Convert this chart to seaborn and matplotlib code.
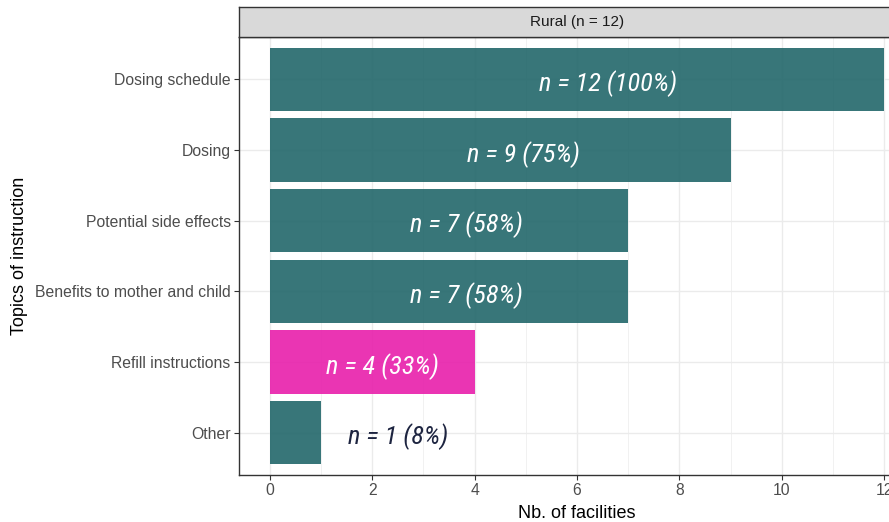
import numpy as np
import pandas as pd
import matplotlib
matplotlib.use("Agg")
import matplotlib.pyplot as plt
from matplotlib import font_manager
from matplotlib.ticker import MultipleLocator
import seaborn as sns

# Data
topics = ["Dosing schedule", "Dosing", "Potential side effects",
          "Benefits to mother and child", "Refill instructions", "Other"]
counts = [12, 9, 7, 7, 4, 1]
total = 12
highlight = ["no", "no", "no", "no", "yes", "no"]
strip_title = "Rural (n = 12)"

df = pd.DataFrame({"topic": topics, "n": counts, "hl": highlight})
df["label"] = [f"n = {c} ({round(100 * c / total)}%)" for c in counts]

sns.set_theme(style="white")
plt.rcParams["font.family"] = ["Liberation Sans", "DejaVu Sans"]

# condensed italic for the bar labels if one is around
names = {f.name for f in font_manager.fontManager.ttflist}
lab_font, lab_size = "Roboto", 17
for nm, sz in [("Roboto Condensed", 19), ("Liberation Sans Narrow", 19),
               ("DejaVu Sans Condensed", 17)]:
    if nm in names:
        lab_font, lab_size = nm, sz
        break

fig = plt.figure(figsize=(8.89, 5.22), dpi=100)
W, H = 889, 522
# panel runs past the right edge, like the cropped original
ax = fig.add_axes([239 / W, (H - 475) / H, (915 - 239) / W, (475 - 37) / H])
strip = fig.add_axes([239 / W, (H - 37) / H, (915 - 239) / W, 30 / H])

sns.barplot(data=df, x="n", y="topic", hue="hl", order=topics,
            palette={"no": "#22676a", "yes": "#e81fab"}, saturation=1,
            dodge=False, width=0.9, alpha=0.9, linewidth=0, legend=False, ax=ax)

for i, row in df.iterrows():
    if row["n"] > 1:
        x, col = row["n"] * 0.55, "white"
    else:
        x, col = row["n"] + 1.5, "#1d2440"
    ax.text(x, i + 0.06, row["label"], ha="center", va="center", color=col,
            fontsize=lab_size, style="italic", family=[lab_font, "DejaVu Sans"])

ax.set_xlim(-0.6, 12.6)
ax.set_ylim(5.6, -0.6)
ax.xaxis.set_major_locator(MultipleLocator(2))
ax.xaxis.set_minor_locator(MultipleLocator(1))
ax.set_axisbelow(True)
ax.grid(which="major", color="#ebebeb", linewidth=1.0)
ax.grid(which="minor", axis="x", color="#ebebeb", linewidth=0.5)
ax.set_facecolor("white")
for s in ax.spines.values():
    s.set_visible(True)
    s.set_color("#333333")
    s.set_linewidth(1.0)
ax.tick_params(axis="both", which="major", length=3.5, width=0.8, color="#333333",
               labelsize=11.3, labelcolor="#4d4d4d", pad=2.5, bottom=True, left=True)
ax.tick_params(axis="both", which="minor", length=0)
ax.set_xlabel("Nb. of facilities", fontsize=13, color="black", labelpad=5)
ax.set_ylabel("Topics of instruction", fontsize=13, color="black", labelpad=5)

strip.set_facecolor("#d9d9d9")
strip.set_xticks([])
strip.set_yticks([])
for s in strip.spines.values():
    s.set_color("#333333")
    s.set_linewidth(1.0)
strip.text(0.5, 0.5, strip_title, ha="center", va="center", fontsize=11,
           color="#1a1a1a", transform=strip.transAxes)

fig.savefig("out.png", dpi=100)
